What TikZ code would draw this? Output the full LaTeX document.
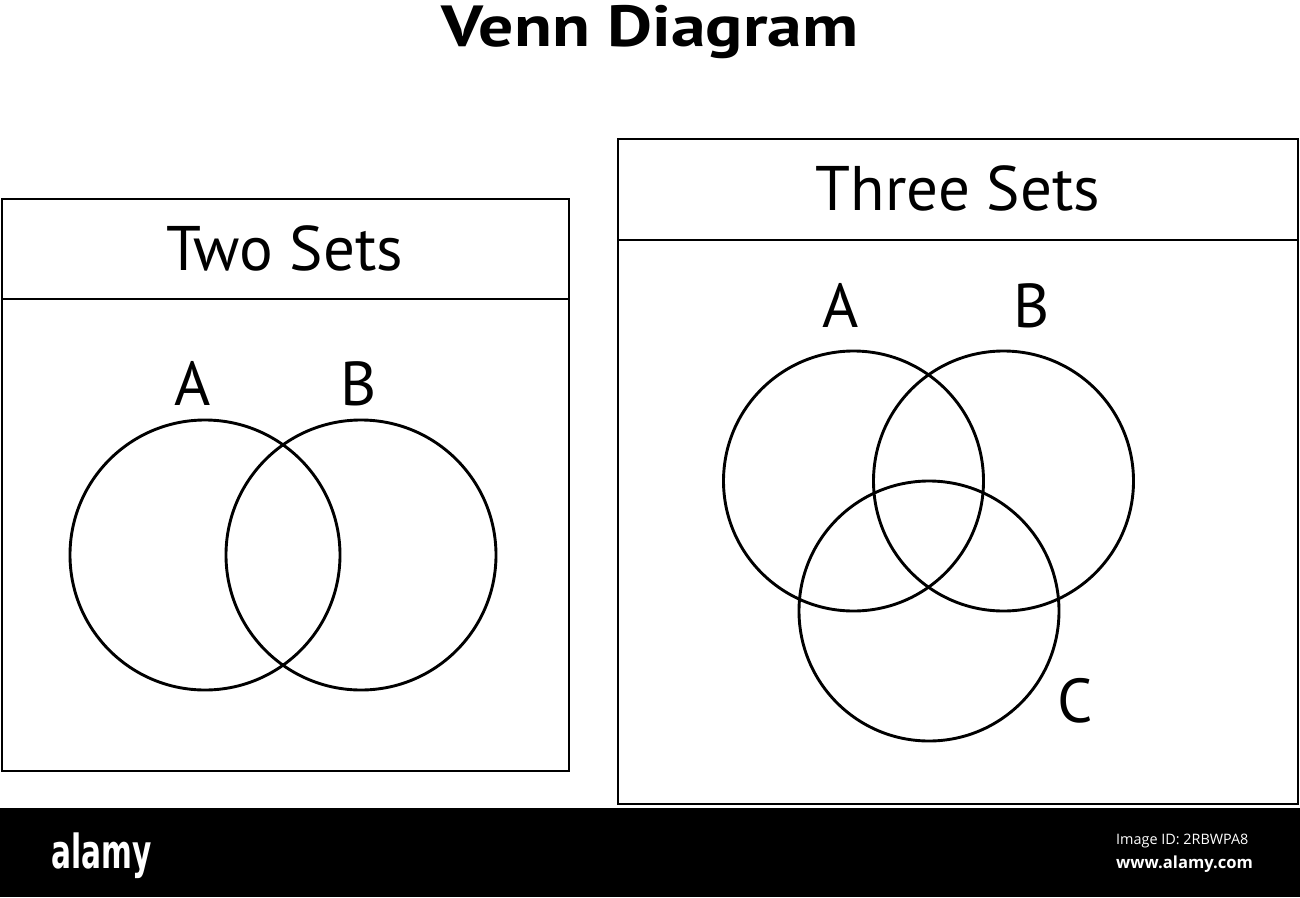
\documentclass[tikz,border=0pt]{standalone}
\usepackage{fontspec}
\setmainfont{PT Sans}
\newfontfamily\wmfont{Open Sans}
\newfontfamily\alamyfont{DejaVu Sans}
\begin{document}
\begin{tikzpicture}[x=1pt,y=-1pt,
  frame/.style={draw=black,line width=2.9pt},
  setcircle/.style={draw=black,line width=2.9pt},
  heading/.style={anchor=base,inner sep=0pt,font=\fontsize{63}{70}\selectfont},
  setlabel/.style={anchor=base,inner sep=0pt,font=\fontsize{62}{70}\selectfont},
  wm/.style={anchor=base west,inner sep=0pt,text=white}]
\useasboundingbox (0,0) rectangle (1300,897);
% title
\node[anchor=base,inner sep=0pt,xscale=1.2,font=\bfseries\fontsize{58}{62}\selectfont] (title) at (650,46) {Venn Diagram};
% two sets box
\draw[frame] (2,199) rectangle (569,771);
\draw[frame] (2,299) -- (569,299);
\node[heading] (two) at (285,270) {Two Sets};
\draw[setcircle] (205,555) circle[radius=135];
\draw[setcircle] (361,555) circle[radius=135];
\node[setlabel] (la) at (192.5,405) {A};
\node[setlabel] (lb) at (359,405) {B};
% three sets box
\draw[frame] (618,139) rectangle (1298,804);
\draw[frame] (618,240) -- (1298,240);
\node[heading] (three) at (958,210) {Three Sets};
\draw[setcircle] (853.5,481) circle[radius=130];
\draw[setcircle] (1003.5,481) circle[radius=130];
\draw[setcircle] (929,611) circle[radius=130];
\node[setlabel] (ra) at (841,327) {A};
\node[setlabel] (rb) at (1032,327) {B};
\node[setlabel] (rc) at (1075,722) {C};
% watermark band
\fill[black] (0,808) rectangle (1300,897);
\node[wm,xscale=0.63,font=\alamyfont\bfseries\fontsize{47}{50}\selectfont] (alamy) at (51,868) {alamy};
\node[wm,font=\wmfont\fontsize{14.4}{18}\selectfont] (imgid) at (1116,844) {Image ID: 2RBWPA8};
\node[wm,font=\wmfont\bfseries\fontsize{16.6}{20}\selectfont] (www) at (1116,868) {www.alamy.com};
\end{tikzpicture}
\end{document}
